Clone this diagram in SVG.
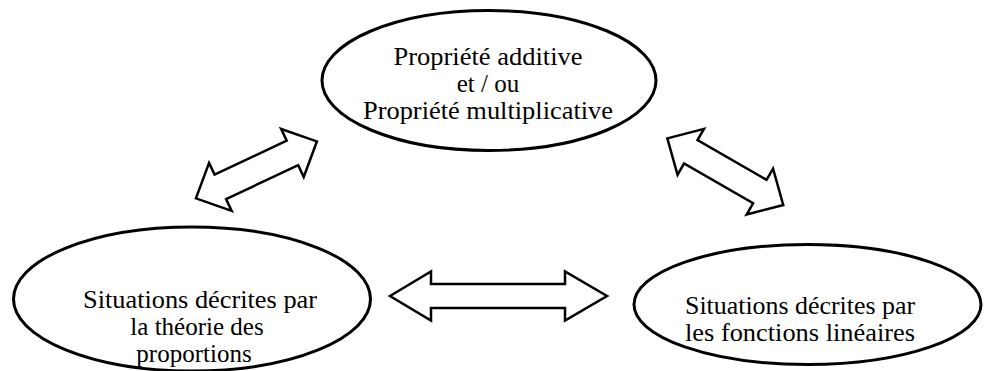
<svg xmlns="http://www.w3.org/2000/svg" width="984" height="371" viewBox="0 0 984 371">
<style>
.node{fill:#fff;stroke:#000;stroke-width:3}
.arr{fill:#fff;stroke:#000;stroke-width:2.5;stroke-linejoin:miter}
.t{font-family:"Liberation Serif","Times New Roman",serif;font-size:25px;fill:#000;text-anchor:middle}
</style>
<rect width="984" height="371" fill="#fff"/>
<defs>
<polygon id="dbl" points="-66.85,0 -39.85,-26.5 -39.85,-13.5 39.85,-13.5 39.85,-26.5 66.85,0 39.85,26.5 39.85,13.5 -39.85,13.5 -39.85,26.5"/>
</defs>
<g id="connectors">
<use href="#dbl" class="arr" transform="translate(256.4,169.9) rotate(-25.2)"/>
<use href="#dbl" class="arr" transform="translate(725.3,171.7) rotate(29.9)"/>
<polygon class="arr" points="390,296 431,271.5 431,284 565,284 565,271.5 607,296 565,320.5 565,308 431,308 431,320.5"/>
</g>
<g id="node-top">
<ellipse class="node" cx="489" cy="80.5" rx="167" ry="70"/>
<text class="t" x="488" y="65" textLength="189" lengthAdjust="spacingAndGlyphs">Propriété additive</text>
<text class="t" x="488" y="92">et / ou</text>
<text class="t" x="488" y="119" textLength="250" lengthAdjust="spacingAndGlyphs">Propriété multiplicative</text>
</g>
<g id="node-left">
<ellipse class="node" cx="192" cy="299" rx="178.5" ry="72"/>
<text class="t" x="200" y="308" textLength="234" lengthAdjust="spacingAndGlyphs">Situations décrites par</text>
<text class="t" x="197" y="335">la théorie des</text>
<text class="t" x="194" y="362">proportions</text>
</g>
<g id="node-right">
<ellipse class="node" cx="807.5" cy="304.5" rx="173.5" ry="60"/>
<text class="t" x="800" y="314" textLength="230" lengthAdjust="spacingAndGlyphs">Situations décrites par</text>
<text class="t" x="800" y="341" textLength="230" lengthAdjust="spacingAndGlyphs">les fonctions linéaires</text>
</g>
</svg>
